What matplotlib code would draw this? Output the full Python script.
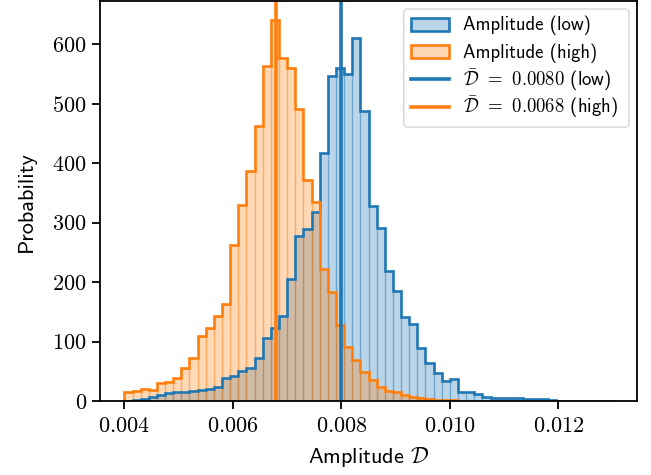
import numpy as np
import matplotlib
matplotlib.use("Agg")
import matplotlib.pyplot as plt
from matplotlib.patches import Patch, Rectangle, FancyBboxPatch
from matplotlib.lines import Line2D
from matplotlib.ticker import FuncFormatter
from matplotlib.legend_handler import HandlerPatch
from matplotlib.transforms import IdentityTransform

plt.rcParams['font.family'] = ['cmss10', 'DejaVu Sans']
plt.rcParams['mathtext.fontset'] = 'cm'
plt.rcParams['axes.unicode_minus'] = False

# Bin edges (60 bins from 0.004 to 0.013)
bin_lo = 0.004
bin_hi = 0.013
n_bins = 60

# Density heights
low_heights = [1, 2, 4.5, 7.5, 10.6, 14, 16, 15, 17.8, 19, 21.5, 24,
               39, 42, 51, 56, 72, 105.6, 123, 144, 205, 278, 290, 319,
               417, 547, 561, 551, 610, 488, 329, 291,
               219, 185, 142, 129.5, 88.8, 65, 48.3, 33.5, 36.8, 16, 16, 12.2, 7.8, 6,
               6, 5, 5, 3.9, 3.9, 3.3, 2, 1, 1, 0.8, 0.7, 0.6, 0.5, 0.5]
high_heights = [15.6, 17.8, 20, 19, 30, 33, 38.5, 56, 72, 110, 123, 144, 164,
                262, 330, 387.6, 463, 563, 641, 577, 561, 491, 372,
                334.5, 222, 183, 128, 91.5, 69, 48.6, 35, 24,
                17.8, 15.6, 10.6, 6.7, 5, 3.9, 2.5, 2,
                1.5, 1.3, 1.2, 1, 1, 0.8, 0.7, 0.6, 0.5, 0.5,
                0.4, 0.4, 0.3, 0.3, 0.3, 0.2, 0.2, 0.2, 0.2, 0.2]
mean_low = 0.0080
mean_high = 0.0068

series_labels = ['Amplitude (low)', 'Amplitude (high)']
xticks = [0.004, 0.006, 0.008, 0.010, 0.012]
yticks = [0, 100, 200, 300, 400, 500, 600]

edges = np.linspace(bin_lo, bin_hi, n_bins + 1)
centers = 0.5 * (edges[:-1] + edges[1:])

W, H = 651, 475
fig = plt.figure(figsize=(W / 100, H / 100), dpi=100)
ax = fig.add_axes([100/W, 1 - 401.3/H, 537/W, 400.3/H])

c_low = '#1f77b4'
c_high = '#ff7f0e'

for h, c in [(low_heights, c_low), (high_heights, c_high)]:
    ax.hist(centers, bins=edges, weights=h, histtype='bar', rwidth=1.0,
            facecolor=matplotlib.colors.to_rgba(c, 0.3),
            edgecolor=matplotlib.colors.to_rgba(c, 0.3), linewidth=0.9)
    ax.hist(centers, bins=edges, weights=h, histtype='step', color=c, linewidth=1.9)

ax.axvline(mean_low, color=c_low, linewidth=2.6)
ax.axvline(mean_high, color=c_high, linewidth=2.6)

ax.set_xticks(xticks)
ax.set_yticks(yticks)
ax.xaxis.set_major_formatter(FuncFormatter(lambda v, p: f'${v:.3f}$'))
ax.yaxis.set_major_formatter(FuncFormatter(lambda v, p: f'${v:.0f}$'))
ax.tick_params(axis='both', labelsize=16, length=6, width=1.3)
ax.tick_params(axis='x', pad=5)
for s in ax.spines.values():
    s.set_linewidth(1.3)

ax.set_xlabel(r'Amplitude $\mathcal{D}$', fontsize=16, labelpad=7)
ax.set_ylabel('Probability', fontsize=16, labelpad=12)

renderer = fig.canvas.get_renderer()


def text_width(s, fs):
    t = fig.text(0, 0, s, fontsize=fs)
    w = t.get_window_extent(renderer).width
    t.remove()
    return w


def mean_label(val, tag, sp):
    return r'$\bar{\mathcal{D}}\hspace{%.3f}=\hspace{%.3f}%s$ (%s)' % (sp, sp, f'{val:.4f}', tag)


# legend font size: match the width of the plain-text entries (~128 px)
leg_fs = 14.6
try:
    wp = text_width(series_labels[0], leg_fs)
    if wp > 0:
        leg_fs = float(np.clip(leg_fs * 128.0 / wp, 12.0, 18.0))
except Exception:
    pass

labels = None
try:
    wa = text_width(mean_label(mean_high, 'high', 0.0), leg_fs)
    wb = text_width(mean_label(mean_high, 'high', 0.5), leg_fs)
    sp = 0.15
    if wb - wa > 1:
        sp = float(np.clip(0.5 * (155.0 - wa) / (wb - wa), 0.0, 0.6))
    labels = [series_labels[0], series_labels[1],
              mean_label(mean_low, 'low', sp), mean_label(mean_high, 'high', sp)]
    for s in labels[2:]:
        text_width(s, leg_fs)
except Exception:
    labels = [series_labels[0], series_labels[1],
              r'$\bar{\mathcal{D}}\,=\,0.0080$ (low)',
              r'$\bar{\mathcal{D}}\,=\,0.0068$ (high)']

fs_px = leg_fs * 100 / 72.0
target_spacing = 27.7  # px between row centres
patch_h_pt = 13.0 * 72 / 100.0
cy_frac = 0.33  # handle centre above text baseline, in font sizes


def small_patch(legend, orig_handle, xdescent, ydescent, width, height, fontsize):
    cy = cy_frac * fontsize
    return Rectangle((-xdescent, cy - patch_h_pt / 2.0), width, patch_h_pt)


handles = [
    Patch(facecolor=matplotlib.colors.to_rgba(c_low, 0.3), edgecolor=c_low, linewidth=1.9),
    Patch(facecolor=matplotlib.colors.to_rgba(c_high, 0.3), edgecolor=c_high, linewidth=1.9),
    Line2D([], [], color=c_low, linewidth=2.6),
    Line2D([], [], color=c_high, linewidth=2.6),
]

HH = 3.0


def make_legend(ls, anchor):
    lg = ax.legend(handles, labels, loc='upper left', fontsize=leg_fs, frameon=False,
                   bbox_to_anchor=anchor, bbox_transform=fig.transFigure,
                   borderaxespad=0.0, handlelength=38.0 / fs_px, handletextpad=14.3 / fs_px,
                   borderpad=0.0, handleheight=HH, labelspacing=ls,
                   handler_map={Patch: HandlerPatch(patch_func=small_patch)})
    for hd in lg.legend_handles[2:]:
        yd = np.asarray(hd.get_ydata(), dtype=float)
        hd.set_ydata(np.full_like(yd, cy_frac * leg_fs))
    return lg


def measure(lg):
    fig.canvas.draw()
    r = fig.canvas.get_renderer()
    cys, x0s = [], []
    for hd in lg.legend_handles:
        bb = hd.get_window_extent(r)
        cys.append(0.5 * (bb.y0 + bb.y1))
        x0s.append(bb.x0)
    tx1 = max(t.get_window_extent(r).x1 for t in lg.get_texts())
    return np.array(cys), min(x0s), tx1


anchor = (0.5, 0.9)
ls = (target_spacing - 2.2 * fs_px) / fs_px
leg = make_legend(ls, anchor)
for _ in range(3):
    cys, hx0, tx1 = measure(leg)
    d = np.mean(-np.diff(cys))
    ls = ls + (target_spacing - d) / fs_px
    leg.remove()
    leg = make_legend(ls, anchor)

# place the legend: frame 8 px inside the top-right corner of the axes
axbb = ax.get_window_extent()
frame_right = axbb.x1 - 8
frame_top = axbb.y1 - 8
cys, hx0, tx1 = measure(leg)
dx = (frame_right - 11) - tx1
dy = (frame_top - 15) - cys[0]
anchor = (anchor[0] + dx / W, anchor[1] + dy / H)
leg.remove()
leg = make_legend(ls, anchor)
cys, hx0, tx1 = measure(leg)

frame_left = hx0 - 7
frame_bottom = cys[-1] - 20
frame = FancyBboxPatch((frame_left, frame_bottom), frame_right - frame_left,
                       frame_top - frame_bottom,
                       boxstyle='round,pad=0,rounding_size=4',
                       transform=IdentityTransform(), facecolor=(1, 1, 1, 0.8),
                       edgecolor=(0.8, 0.8, 0.8, 0.8), linewidth=1.0,
                       zorder=4.9, clip_on=False)
ax.add_artist(frame)

fig.savefig('out.png', dpi=100)
